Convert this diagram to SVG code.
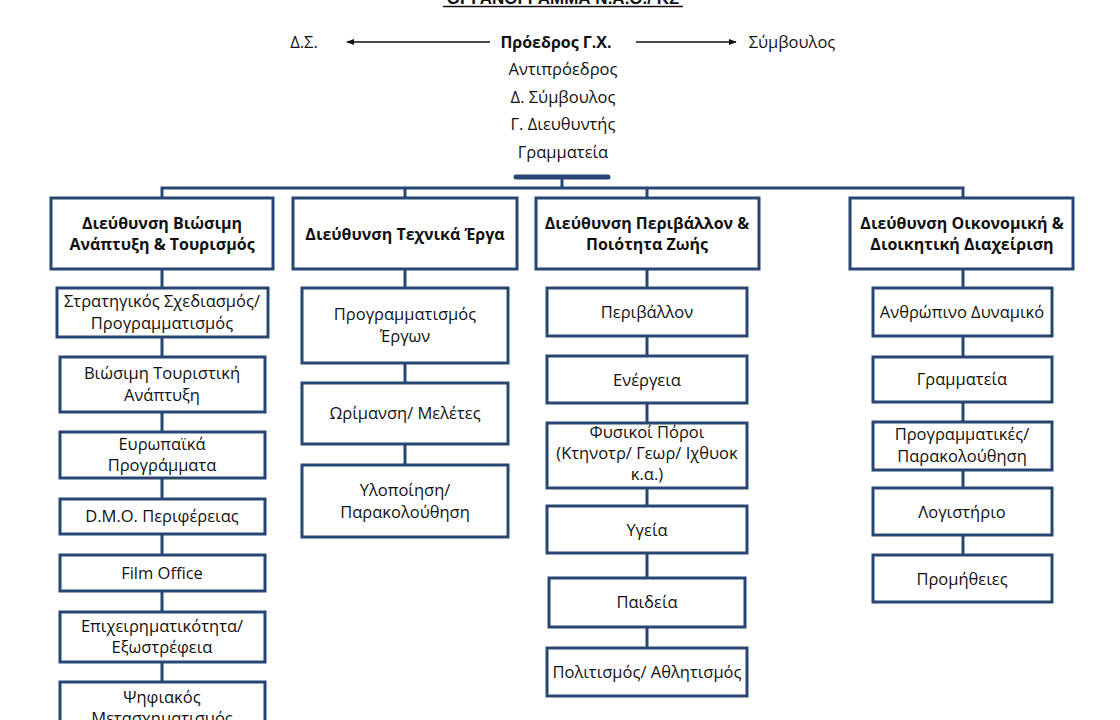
<svg xmlns="http://www.w3.org/2000/svg" width="1120" height="720" viewBox="0 0 1120 720">
<style>
.bx{fill:#fff;stroke:#274673;stroke-width:3}
.ln{stroke:#274673;stroke-width:3;fill:none}
text{font-family:"Open Sans","Noto Sans","DejaVu Sans",sans-serif;font-size:16.5px;fill:#111;text-anchor:middle}
.b{font-weight:bold;font-size:16px}
.t{font-family:"Liberation Sans",Arial,sans-serif;font-weight:bold;font-size:17px;fill:#111}
.ar{stroke:#111;stroke-width:1.6;fill:none}
</style>
<defs>
<marker id="ah" viewBox="0 0 10 10" refX="9" refY="5" markerWidth="8" markerHeight="8" orient="auto" markerUnits="userSpaceOnUse">
<path d="M0,1 L10,5 L0,9 z" fill="#111"/>
</marker>
</defs>
<rect width="1120" height="720" fill="#fff"/>

<g id="title">
<text class="t" x="563" y="4">ΟΡΓΑΝΟΓΡΑΜΜΑ Ν.Α.Ο./ ΚΣ</text>
<line x1="443" y1="6.5" x2="683" y2="6.5" stroke="#111" stroke-width="1.5"/>
</g>

<g id="top">
<text x="304" y="48">Δ.Σ.</text>
<text class="b" x="556" y="48">Πρόεδρος Γ.Χ.</text>
<text x="792" y="48">Σύμβουλος</text>
<text x="563" y="75">Αντιπρόεδρος</text>
<text x="563" y="103">Δ. Σύμβουλος</text>
<text x="563" y="130">Γ. Διευθυντής</text>
<text x="563" y="158">Γραμματεία</text>
<line x1="516" y1="177" x2="608" y2="177" stroke="#274673" stroke-width="5" stroke-linecap="round"/>
</g>

<g id="connectors">
<line class="ar" x1="490" y1="42" x2="347" y2="42" marker-end="url(#ah)"/>
<line class="ar" x1="636" y1="42" x2="736" y2="42" marker-end="url(#ah)"/>
<line class="ln" x1="562" y1="178" x2="562" y2="188"/>
<polyline class="ln" points="162,200 162,188 963,188 963,200"/>
<line class="ln" x1="405" y1="188" x2="405" y2="200"/>
<line class="ln" x1="647" y1="188" x2="647" y2="200"/>
<line class="ln" x1="162" y1="200" x2="162" y2="720"/>
<line class="ln" x1="405" y1="200" x2="405" y2="466"/>
<line class="ln" x1="647" y1="200" x2="647" y2="649"/>
<line class="ln" x1="963" y1="200" x2="963" y2="556"/>
</g>

<g id="d1">
<rect class="bx" x="51" y="198" width="222" height="71"/>
<text class="b" x="162" y="229">Διεύθυνση Βιώσιμη</text>
<text class="b" x="162" y="250">Ανάπτυξη &amp; Τουρισμός</text>
</g>
<g id="d1-1"><rect class="bx" x="57" y="288" width="211" height="49"/>
<text x="162" y="307">Στρατηγικός Σχεδιασμός/</text><text x="162" y="329">Προγραμματισμός</text></g>
<g id="d1-2"><rect class="bx" x="60" y="357" width="205" height="55"/>
<text x="162" y="379">Βιώσιμη Τουριστική</text><text x="162" y="401">Ανάπτυξη</text></g>
<g id="d1-3"><rect class="bx" x="60" y="432" width="205" height="46"/>
<text x="162" y="450">Ευρωπαϊκά</text><text x="162" y="471">Προγράμματα</text></g>
<g id="d1-4"><rect class="bx" x="60" y="499" width="205" height="35"/>
<text x="162" y="522">D.M.O. Περιφέρειας</text></g>
<g id="d1-5"><rect class="bx" x="60" y="555" width="205" height="36"/>
<text x="162" y="579">Film Office</text></g>
<g id="d1-6"><rect class="bx" x="60" y="612" width="205" height="50"/>
<text x="162" y="632">Επιχειρηματικότητα/</text><text x="162" y="653">Εξωστρέφεια</text></g>
<g id="d1-7"><rect class="bx" x="60" y="682" width="205" height="60"/>
<text x="162" y="703">Ψηφιακός</text><text x="162" y="724">Μετασχηματισμός</text></g>

<g id="d2">
<rect class="bx" x="293" y="198" width="224" height="71"/>
<text class="b" x="405" y="240">Διεύθυνση Τεχνικά Έργα</text>
</g>
<g id="d2-1"><rect class="bx" x="302" y="288" width="206" height="75"/>
<text x="405" y="320">Προγραμματισμός</text><text x="405" y="342">Έργων</text></g>
<g id="d2-2"><rect class="bx" x="302" y="383" width="206" height="61"/>
<text x="405" y="419">Ωρίμανση/ Μελέτες</text></g>
<g id="d2-3"><rect class="bx" x="302" y="465" width="206" height="72"/>
<text x="405" y="496">Υλοποίηση/</text><text x="405" y="518">Παρακολούθηση</text></g>

<g id="d3">
<rect class="bx" x="536" y="198" width="223" height="71"/>
<text class="b" x="647" y="229">Διεύθυνση Περιβάλλον &amp;</text>
<text class="b" x="647" y="250">Ποιότητα Ζωής</text>
</g>
<g id="d3-1"><rect class="bx" x="547" y="288" width="200" height="48"/>
<text x="647" y="318">Περιβάλλον</text></g>
<g id="d3-2"><rect class="bx" x="547" y="356" width="200" height="47"/>
<text x="647" y="386">Ενέργεια</text></g>
<g id="d3-3"><rect class="bx" x="547" y="423" width="200" height="65"/>
<text x="647" y="438">Φυσικοί Πόροι</text><text x="647" y="459">(Κτηνοτρ/ Γεωρ/ Ιχθυοκ</text><text x="647" y="480">κ.α.)</text></g>
<g id="d3-4"><rect class="bx" x="547" y="506" width="200" height="47"/>
<text x="647" y="536">Υγεία</text></g>
<g id="d3-5"><rect class="bx" x="549" y="578" width="196" height="49"/>
<text x="647" y="608">Παιδεία</text></g>
<g id="d3-6"><rect class="bx" x="547" y="648" width="200" height="48"/>
<text x="647" y="678">Πολιτισμός/ Αθλητισμός</text></g>

<g id="d4">
<rect class="bx" x="850" y="198" width="223" height="71"/>
<text class="b" x="962" y="229">Διεύθυνση Οικονομική &amp;</text>
<text class="b" x="962" y="250">Διοικητική Διαχείριση</text>
</g>
<g id="d4-1"><rect class="bx" x="873" y="288" width="179" height="48"/>
<text x="962" y="318">Ανθρώπινο Δυναμικό</text></g>
<g id="d4-2"><rect class="bx" x="873" y="357" width="179" height="45"/>
<text x="962" y="385">Γραμματεία</text></g>
<g id="d4-3"><rect class="bx" x="873" y="422" width="179" height="48"/>
<text x="962" y="440">Προγραμματικές/</text><text x="962" y="462">Παρακολούθηση</text></g>
<g id="d4-4"><rect class="bx" x="873" y="488" width="179" height="47"/>
<text x="962" y="518">Λογιστήριο</text></g>
<g id="d4-5"><rect class="bx" x="873" y="555" width="179" height="47"/>
<text x="962" y="585">Προμήθειες</text></g>
</svg>
